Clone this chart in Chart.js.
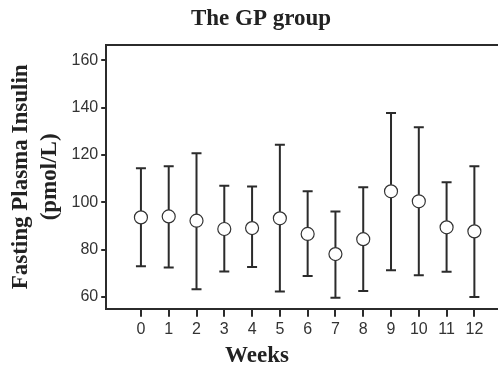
<!DOCTYPE html>
<html>
<head>
<meta charset="utf-8">
<script src="https://cdn.jsdelivr.net/npm/chart.js@4.4.1/dist/chart.umd.min.js"></script>
<style>
  html, body { margin: 0; padding: 0; background: #fff; }
  #wrap { width: 498px; height: 373px; }
</style>
</head>
<body>
<div id="wrap"><canvas id="myChart"></canvas></div>
<script>
// DATA
const weeks = [0, 1, 2, 3, 4, 5, 6, 7, 8, 9, 10, 11, 12]
const means = [93.6, 94.0, 92.2, 88.7, 89.1, 93.2, 86.6, 78.1, 84.4, 104.6, 100.4, 89.4, 87.7]
const upper = [114.4, 115.2, 120.7, 107.0, 106.6, 124.3, 104.6, 96.1, 106.3, 137.7, 131.7, 108.4, 115.2]
const lower = [73.0, 72.4, 63.3, 70.7, 72.7, 62.3, 68.9, 59.7, 62.5, 71.3, 69.2, 70.6, 60.0]
const yTicks = [60, 80, 100, 120, 140, 160]

const INK = '#2b2b2b'
const SERIF = '"Liberation Serif", "Times New Roman", serif'
const SANS = '"Liberation Sans", Arial, sans-serif'

// error bars drawn through the scales, under the circles
const errorBars = {
  id: 'errorBars',
  beforeDatasetsDraw(chart) {
    const ctx = chart.ctx
    const xs = chart.scales.x
    const ys = chart.scales.y
    ctx.save()
    ctx.strokeStyle = INK
    ctx.lineWidth = 2
    weeks.forEach((w, i) => {
      const x = xs.getPixelForValue(w)
      const yt = ys.getPixelForValue(upper[i])
      const yb = ys.getPixelForValue(lower[i])
      ctx.beginPath()
      ctx.moveTo(x, yt); ctx.lineTo(x, yb)
      ctx.moveTo(x - 5, yt); ctx.lineTo(x + 5, yt)
      ctx.moveTo(x - 5, yb); ctx.lineTo(x + 5, yb)
      ctx.stroke()
    })
    ctx.restore()
  }
}

// top frame line + chart title + x axis title
const decor = {
  id: 'decor',
  afterDraw(chart) {
    const ctx = chart.ctx
    const a = chart.chartArea
    ctx.save()
    ctx.strokeStyle = INK
    ctx.lineWidth = 2
    ctx.beginPath()
    ctx.moveTo(a.left - 1, a.top); ctx.lineTo(a.right, a.top)
    ctx.stroke()
    ctx.fillStyle = '#222'
    ctx.textAlign = 'center'
    ctx.textBaseline = 'middle'
    ctx.font = 'bold 23px ' + SERIF
    ctx.fillText('The GP group', 261, 19)
    ctx.fillText('Weeks', 257, 356)
    ctx.restore()
  }
}

const chart = new Chart(document.getElementById('myChart'), {
  type: 'scatter',
  data: {
    datasets: [{
      data: weeks.map((w, i) => ({ x: w, y: means[i] })),
      pointStyle: 'circle',
      pointRadius: 6.5,
      pointHoverRadius: 6.5,
      pointBorderWidth: 1.2,
      borderColor: '#333',
      backgroundColor: '#fff',
      showLine: false
    }]
  },
  options: {
    responsive: true,
    maintainAspectRatio: false,
    animation: false,
    events: [],
    layout: { autoPadding: false, padding: { left: 3, right: 0, top: 45, bottom: 31 } },
    plugins: {
      legend: { display: false },
      tooltip: { enabled: false },
      title: { display: false }
    },
    scales: {
      x: {
        type: 'linear',
        min: -1.25,
        max: 12.85,
        afterBuildTicks: s => { s.ticks = weeks.map(v => ({ value: v })) },
        afterFit: s => { s.paddingRight = 0; s.paddingLeft = 0 },
        grid: { display: true, drawOnChartArea: false, tickLength: 8, color: INK, lineWidth: 2 },
        border: { display: true, color: INK, width: 2 },
        ticks: { color: '#333', font: { family: SANS, size: 16 }, padding: 3, maxRotation: 0 }
      },
      y: {
        min: 55,
        max: 166.4,
        afterBuildTicks: s => { s.ticks = yTicks.map(v => ({ value: v })) },
        grid: { display: true, drawOnChartArea: false, tickLength: 5, color: INK, lineWidth: 2 },
        border: { display: true, color: INK, width: 2 },
        ticks: { color: '#333', font: { family: SANS, size: 16 }, padding: 3 },
        title: {
          display: true,
          text: ['Fasting Plasma Insulin', '(pmol/L)'],
          color: '#222',
          font: { family: SERIF, size: 23, weight: 'bold', lineHeight: 1.25 },
          padding: { top: 4, bottom: 4 }
        }
      }
    }
  },
  plugins: [errorBars, decor]
})
</script>
</body>
</html>
